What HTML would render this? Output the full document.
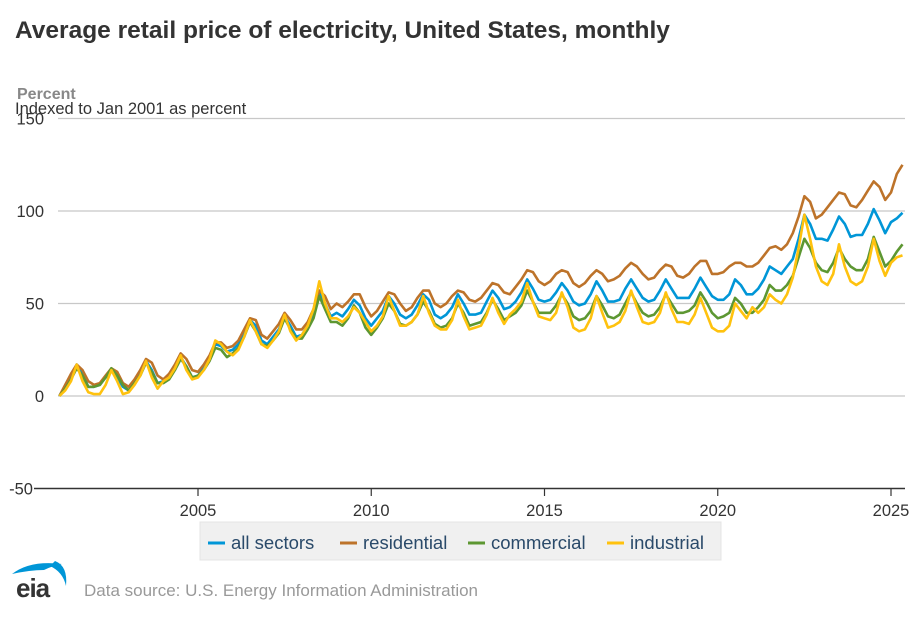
<!DOCTYPE html>
<html><head><meta charset="utf-8"><style>
body{margin:0;background:#fff;font-family:"Liberation Sans",sans-serif;}
svg text{font-family:"Liberation Sans",sans-serif;}
</style></head><body>
<svg id="c" width="920" height="613" xmlns="http://www.w3.org/2000/svg">
<text x="15" y="38" font-size="24.5" font-weight="bold" fill="#333">Average retail price of electricity, United States, monthly</text>
<text x="17" y="99" font-size="16" font-weight="bold" fill="#888">Percent</text>
<text x="15" y="114" font-size="16.5" fill="#333">Indexed to Jan 2001 as percent</text>
<g id="grid"></g><g id="series"></g><g id="xaxis"></g>
<rect x="200" y="522" width="521" height="38" fill="#f0f0f0" stroke="#e4e4e4"/>
<g id="legend"></g>
<g>
<path d="M12 574 Q30 560 62 564 Q52 566 44 570 Q30 570 12 574Z" fill="#0096d7"/>
<path d="M55 561 Q68 566 66 586 Q63 572 50 566Z" fill="#0096d7"/>
<text x="16" y="597" font-size="26" fill="#333" font-weight="bold" letter-spacing="-1">eia</text>
</g>
<text x="84" y="596" font-size="17" fill="#999">Data source: U.S. Energy Information Administration</text>
</svg>
<script>
// bi-monthly samples: Jan, Mar, May, Jul, Sep, Nov from 2001
const allSectors=[0,5,10,17,12,5, 5,6,10,14,10,5, 3,7,12,19,14,7, 8,10,15,21,16,10, 11,15,20,28,27,24, 25,28,34,41,38,30, 28,32,36,43,38,32, 33,38,45,57,50,43, 45,43,47,52,49,42, 38,42,46,54,50,44, 42,44,49,55,52,44, 42,44,48,55,50,44, 44,45,51,57,53,47, 48,51,56,63,58,52, 51,52,56,61,57,51, 49,50,55,62,57,51, 51,52,58,63,58,53, 51,52,57,63,58,53, 53,53,58,64,59,54, 52,52,55,63,60,55, 55,58,63,70,68,66, 70,74,85,98,93,85, 85,84,90,97,93,86, 87,87,93,101,95,88, 94,96,99];
const residential=[0,6,12,17,14,8, 6,7,11,15,13,7, 5,9,14,20,18,11, 9,12,17,23,20,14, 13,17,22,29,29,26, 27,30,36,42,41,33, 31,35,39,45,41,36, 36,40,47,57,54,47, 50,48,51,55,55,48, 43,46,51,56,55,50, 46,48,53,57,57,50, 48,50,54,57,56,52, 51,53,57,61,60,56, 55,59,63,68,67,62, 60,62,66,68,67,61, 59,61,65,68,66,62, 63,65,69,72,70,66, 63,64,68,71,70,65, 64,66,70,73,73,66, 66,67,70,72,72,70, 70,72,76,80,81,79, 82,88,97,108,105,96, 98,102,106,110,109,103, 102,106,111,116,113,106, 110,120,125];
const commercial=[0,4,9,15,11,5, 5,6,10,15,11,6, 3,7,11,18,13,7, 7,9,14,20,16,10, 11,14,19,26,25,21, 23,26,32,40,35,28, 27,30,34,42,36,31, 31,36,42,54,47,40, 40,38,42,49,45,37, 33,37,42,50,46,39, 38,40,44,51,46,39, 37,38,42,50,45,38, 39,40,45,52,47,41, 43,45,49,57,51,45, 45,45,49,55,50,43, 41,42,46,54,49,43, 42,44,50,56,50,45, 43,44,48,55,50,45, 45,46,49,56,51,45, 42,43,45,53,50,45, 45,48,52,60,57,57, 60,65,75,85,80,72, 68,67,72,80,74,70, 68,68,74,86,78,70, 73,78,82];
const industrial=[0,3,8,17,8,2, 1,1,6,14,8,1, 2,6,11,19,10,4, 8,10,15,22,14,9, 10,14,20,30,28,24, 22,25,32,41,35,28, 26,30,35,44,35,30, 33,38,47,62,50,42, 42,40,43,48,45,40, 35,38,43,54,46,38, 38,40,44,54,45,38, 36,36,41,52,43,36, 37,38,44,53,45,39, 44,47,51,61,51,43, 42,41,45,56,48,37, 35,36,42,54,45,37, 38,40,46,57,48,40, 39,40,45,56,47,40, 40,39,44,53,45,37, 35,35,38,50,46,42, 48,45,48,55,52,50, 55,64,80,98,85,70, 62,60,66,82,70,62, 60,62,70,85,73,65, 72,75,76];
const yTicks=[-50,0,50,100,150];
const xTicks=[2005,2010,2015,2020,2025];
const seriesNames=["all sectors","residential","commercial","industrial"];
const colors=["#0096d7","#bd732a","#5d9732","#ffc20e"];

const NS="http://www.w3.org/2000/svg";
const X=m=>59.4+m*34.65/12;          // months since Jan 2001
const Y=v=>396-v*1.85;
function mk(t,a,p){const e=document.createElementNS(NS,t);for(const k in a)e.setAttribute(k,a[k]);p.appendChild(e);return e;}
const grid=document.getElementById('grid');
yTicks.forEach(v=>{
  const l=mk('line',{x1:v===-50?34:58,x2:905,y1:Y(v),y2:Y(v),stroke:v===-50?'#333':'#c8c8c8','stroke-width':v===-50?1.5:1.2},grid);
  
  
  const t=mk('text',{x:v===-50?33:44,y:Y(v)+6,'font-size':16.5,fill:'#333','text-anchor':'end'},grid);
  
  
  t.textContent=v;
});
const xa=document.getElementById('xaxis');
xTicks.forEach(yr=>{
  const x=X((yr-2001)*12);
  const l=mk('line',{x1:x,x2:x,y1:489,y2:496,stroke:'#333','stroke-width':1.2},xa);
  
  
  const t=mk('text',{x:x,y:516,'font-size':16.5,fill:'#333','text-anchor':'middle'},xa);
  
  
  t.textContent=yr;
});
const sg=document.getElementById('series');
[allSectors,residential,commercial,industrial].forEach((arr,i)=>{
  const d=arr.map((v,j)=>(j?'L':'M')+X(j*2).toFixed(1)+' '+Y(v).toFixed(1)).join(' ');
  const p=mk('path',{d:d,fill:'none',stroke:colors[i],'stroke-width':2.6,'stroke-linejoin':'round'},sg);
  
  
});
const lg=document.getElementById('legend');
const lx=[208,340,468,607];
seriesNames.forEach((n,i)=>{
  const g=mk('g',{},lg);
  
  
  mk('line',{x1:lx[i],x2:lx[i]+17,y1:543,y2:543,stroke:colors[i],'stroke-width':3},g);
  const t=mk('text',{x:lx[i]+23,y:549,'font-size':18.5,fill:'#2a4a6a'},g);
  t.textContent=n;
});
</script>
</body></html>
